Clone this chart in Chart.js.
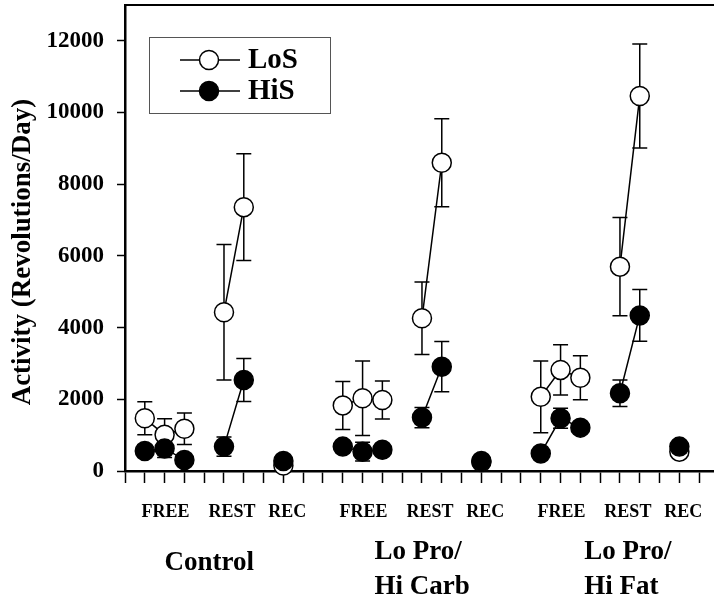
<!DOCTYPE html>
<html>
<head>
<meta charset="utf-8">
<script src="https://cdn.jsdelivr.net/npm/chart.js@4.4.1/dist/chart.umd.min.js"></script>
<style>
  body { margin: 0; background: #fff; }
  canvas { display: block; }
</style>
</head>
<body>
<canvas id="activityChart" width="714" height="600"></canvas>
<script>
// slot index on the x axis: 10 slots per diet group (FREE x3, REST x2, REC x1)
const slots = [0, 1, 2, 3, 4, 5, 6, 7, 8, 9,
               10, 11, 12, 13, 14, 15, 16, 17, 18, 19,
               20, 21, 22, 23, 24, 25, 26, 27, 28, 29];
const yTicks = [0, 2000, 4000, 6000, 8000, 10000, 12000];

const losMean = [null, 1470, 1010, 1180, null, 4430, 7360, null, 150, null,
                 null, 1830, 2030, 1980, null, 4260, 8600, null, 250, null,
                 null, 2070, 2820, 2600, null, 5700, 10460, null, 540, null];
const losErr  = [null, 460, 450, 440, null, 1890, 1490, null, 0, null,
                 null, 670, 1040, 530, null, 1010, 1230, null, 0, null,
                 null, 1000, 700, 615, null, 1370, 1450, null, 0, null];

const hisMean = [null, 560, 630, 310, null, 680, 2540, null, 280, null,
                 null, 680, 540, 595, null, 1490, 2910, null, 280, null,
                 null, 490, 1470, 1210, null, 2170, 4340, null, 680, null];
const hisErr  = [null, 150, 250, 100, null, 270, 600, null, 0, null,
                 null, 150, 260, 150, null, 280, 700, null, 0, null,
                 null, 100, 280, 100, null, 370, 720, null, 0, null];

const phaseLabels = ["FREE", "REST", "REC"];
const groupLabels = [["Control"], ["Lo Pro/", "Hi Carb"], ["Lo Pro/", "Hi Fat"]];
const seriesNames = ["LoS", "HiS"];
const yTitle = "Activity (Revolutions/Day)";

const FONT = "'Liberation Serif', 'Times New Roman', serif";

function toPoints(values) {
    return slots.map((s, i) => ({ x: s, y: values[i] }));
}

/* error bars, drawn behind the markers */
const errorBars = {
    id: "errorBars",
    beforeDatasetsDraw(chart) {
        const ctx = chart.ctx;
        const x = chart.scales.x, y = chart.scales.y;
        const sets = [[losMean, losErr], [hisMean, hisErr]];
        ctx.save();
        ctx.strokeStyle = "#000";
        ctx.lineWidth = 1.5;
        sets.forEach(([mean, err]) => {
            mean.forEach((v, i) => {
                if (v === null || !err[i]) return;
                let px = x.getPixelForValue(slots[i]);
                let top = y.getPixelForValue(v + err[i]);
                let bot = y.getPixelForValue(Math.max(0, v - err[i]));
                ctx.beginPath();
                ctx.moveTo(px, top); ctx.lineTo(px, bot);
                ctx.moveTo(px - 7.5, top); ctx.lineTo(px + 7.5, top);
                ctx.moveTo(px - 7.5, bot); ctx.lineTo(px + 7.5, bot);
                ctx.stroke();
            });
        });
        ctx.restore();
    }
};

/* top frame line, legend box, axis title and the category texts under the axis */
const decorations = {
    id: "decorations",
    afterDraw(chart) {
        const ctx = chart.ctx;
        const area = chart.chartArea;
        const x = chart.scales.x;
        ctx.save();

        ctx.strokeStyle = "#000";
        ctx.lineWidth = 2;
        ctx.beginPath();
        ctx.moveTo(area.left - 1, area.top);
        ctx.lineTo(area.right, area.top);
        ctx.stroke();

        // y title
        ctx.save();
        ctx.translate(23, 252);
        ctx.rotate(-Math.PI / 2);
        ctx.fillStyle = "#000";
        ctx.font = "bold 27px " + FONT;
        ctx.textAlign = "center";
        ctx.textBaseline = "middle";
        ctx.fillText(yTitle, 0, 0);
        ctx.restore();

        // legend
        ctx.fillStyle = "#fff";
        ctx.fillRect(149, 37, 181, 76);
        ctx.strokeStyle = "#555";
        ctx.lineWidth = 1;
        ctx.strokeRect(149.5, 37.5, 181, 76);
        seriesNames.forEach((name, i) => {
            let ly = 60 + i * 31;
            ctx.strokeStyle = "#000";
            ctx.lineWidth = 1.5;
            ctx.beginPath();
            ctx.moveTo(180, ly); ctx.lineTo(240, ly);
            ctx.stroke();
            ctx.beginPath();
            ctx.arc(209, ly, 9.5, 0, Math.PI * 2);
            ctx.fillStyle = i === 0 ? "#fff" : "#000";
            ctx.fill();
            ctx.stroke();
            ctx.fillStyle = "#000";
            ctx.font = "bold 29px " + FONT;
            ctx.textAlign = "left";
            ctx.textBaseline = "middle";
            ctx.fillText(name, 248, ly + 1);
        });

        // phase labels
        ctx.fillStyle = "#000";
        ctx.textBaseline = "middle";
        ctx.textAlign = "center";
        ctx.font = "bold 18px " + FONT;
        const phaseOffsets = [2.05, 5.4, 8.2];
        groupLabels.forEach((g, gi) => {
            phaseLabels.forEach((p, pi) => {
                ctx.fillText(p, x.getPixelForValue(gi * 10 + phaseOffsets[pi]), 512);
            });
        });

        // group labels
        ctx.font = "bold 27px " + FONT;
        ctx.textAlign = "left";
        const groupLeft = [2.0, 12.6, 23.2];
        groupLabels.forEach((lines, gi) => {
            let gx = x.getPixelForValue(groupLeft[gi]);
            if (lines.length === 1) {
                ctx.fillText(lines[0], gx, 563);
            } else {
                ctx.fillText(lines[0], gx, 552);
                ctx.fillText(lines[1], gx, 587);
            }
        });
        ctx.restore();
    }
};

const ctx = document.getElementById("activityChart").getContext("2d");
const chart = new Chart(ctx, {
    type: "line",
    data: {
        datasets: [
            {
                label: "LoS",
                data: toPoints(losMean),
                order: 1,
                borderColor: "#000",
                borderWidth: 1.5,
                backgroundColor: "#fff",
                pointBackgroundColor: "#fff",
                pointBorderColor: "#000",
                pointBorderWidth: 1.5,
                pointRadius: 9.5,
                spanGaps: false,
                clip: false
            },
            {
                label: "HiS",
                data: toPoints(hisMean),
                order: 0,
                borderColor: "#000",
                borderWidth: 1.5,
                backgroundColor: "#000",
                pointBackgroundColor: "#000",
                pointBorderColor: "#000",
                pointBorderWidth: 1.5,
                pointRadius: 9.5,
                spanGaps: false,
                clip: false
            }
        ]
    },
    options: {
        responsive: false,
        animation: false,
        devicePixelRatio: 1,
        layout: { autoPadding: false, padding: { top: 5, right: 0, left: 0, bottom: 0 } },
        plugins: {
            legend: { display: false },
            tooltip: { enabled: false }
        },
        scales: {
            x: {
                type: "linear",
                min: 0,
                max: 29.75,
                afterBuildTicks: (scale) => {
                    scale.ticks = slots.map(v => ({ value: v }));
                },
                afterFit: (scale) => {
                    scale.height = 129;
                    scale.paddingLeft = 0;
                    scale.paddingRight = 0;
                    scale.paddingTop = 0;
                    scale.paddingBottom = 0;
                },
                ticks: {
                    autoSkip: false,
                    maxRotation: 0,
                    callback: () => ""
                },
                grid: {
                    drawOnChartArea: false,
                    drawTicks: true,
                    tickLength: 12,
                    tickWidth: 1.5,
                    tickColor: "#000"
                },
                border: { color: "#000", width: 2.5 }
            },
            y: {
                min: 0,
                max: 13000,
                afterBuildTicks: (scale) => {
                    scale.ticks = yTicks.map(v => ({ value: v }));
                },
                afterFit: (scale) => {
                    scale.width = 125;
                    scale.paddingTop = 0;
                    scale.paddingBottom = 0;
                    scale.paddingLeft = 0;
                    scale.paddingRight = 0;
                },
                ticks: {
                    autoSkip: false,
                    padding: 13,
                    color: "#000",
                    font: { family: FONT, size: 23, weight: "bold" },
                    callback: (v) => String(v)
                },
                grid: {
                    drawOnChartArea: false,
                    drawTicks: true,
                    tickLength: 8,
                    tickWidth: 1.5,
                    tickColor: "#000"
                },
                border: { color: "#000", width: 2.5 },
                title: { display: false }
            }
        }
    },
    plugins: [errorBars, decorations]
});
</script>
</body>
</html>
